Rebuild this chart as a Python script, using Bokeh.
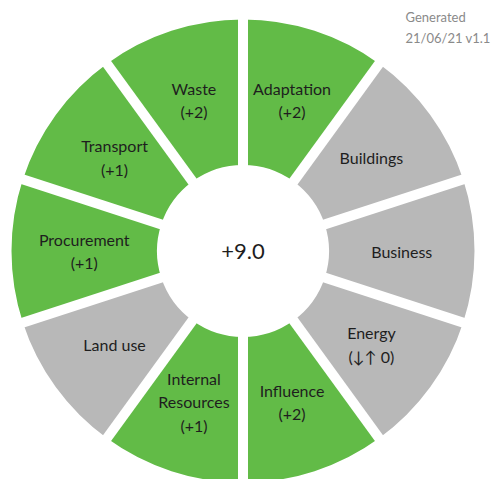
import math
from bokeh.plotting import figure
from bokeh.models import Range1d, ColumnDataSource
from bokeh.core.properties import value
from bokeh.embed import file_html
from bokeh.resources import INLINE

# ---- data ----
categories = ["Adaptation", "Buildings", "Business", "Energy", "Influence",
              "Internal\nResources", "Land use", "Procurement", "Transport", "Waste"]
scores = ["(+2)", "", "", "(\u2193\u2191 0)", "(+2)", "(+1)", "", "(+1)", "(+1)", "(+2)"]
active = [True, False, False, False, True, True, False, True, True, True]
total_label = "+9.0"
stamp_lines = ["Generated", "21/06/21 v1.1"]

GREEN = "#62bb47"
GREY = "#b8b8b8"

W, H = 495, 479
PAGE_H = 479
cx, cy = 242.5, PAGE_H - 250.5
r_out, r_in = 231.5, 86.0
gap = 10

n = len(categories)
step = 2 * math.pi / n
starts, ends, colors, lx, ly, texts = [], [], [], [], [], []
r_mid = (r_out + r_in) / 2
for i in range(n):
    a0 = math.pi / 2 - step * (i + 1)
    a1 = math.pi / 2 - step * i
    starts.append(a0)
    ends.append(a1)
    colors.append(GREEN if active[i] else GREY)
    am = (a0 + a1) / 2
    lx.append(cx + r_mid * math.cos(am))
    ly.append(cy + r_mid * math.sin(am))
    texts.append(categories[i] + ("\n" + scores[i] if scores[i] else ""))

src = ColumnDataSource(dict(x=[cx] * n, y=[cy] * n, start=starts, end=ends,
                            color=colors, lx=lx, ly=ly, text=texts))

p = figure(width=W, height=H, output_backend="svg", toolbar_location=None,
           x_range=Range1d(0, W), y_range=Range1d(PAGE_H - H, PAGE_H),
           min_border=0)
p.axis.visible = False
p.grid.visible = False
p.outline_line_color = None
p.background_fill_color = "white"

p.annular_wedge(x="x", y="y", inner_radius=r_in, outer_radius=r_out,
                start_angle="start", end_angle="end", fill_color="color",
                line_color=None, source=src)

# white dividers
dx0, dy0, dx1, dy1 = [], [], [], []
for i in range(n):
    a = math.pi / 2 - step * i
    dx0.append(cx)
    dy0.append(cy)
    dx1.append(cx + (r_out + 6) * math.cos(a))
    dy1.append(cy + (r_out + 6) * math.sin(a))
p.segment(x0=dx0, y0=dy0, x1=dx1, y1=dy1, line_color="white", line_width=gap)

p.text(x="lx", y="ly", text="text", source=src, text_align="center",
       text_baseline="middle", text_font=value("Lato"), text_font_size="16px",
       text_color="#1e1e1e", text_line_height=1.25)

p.text(x=[cx], y=[cy], text=[total_label], text_align="center",
       text_baseline="middle", text_font=value("Lato"), text_font_size="22px",
       text_color="#1e1e1e")

p.text(x=[405], y=[PAGE_H - 27], text=["\n".join(stamp_lines)], text_align="left",
       text_baseline="middle", text_font=value("Lato"), text_font_size="13px",
       text_color="#8a8a8a", text_line_height=1.35)

open("out.html", "w").write(file_html(p, INLINE))
